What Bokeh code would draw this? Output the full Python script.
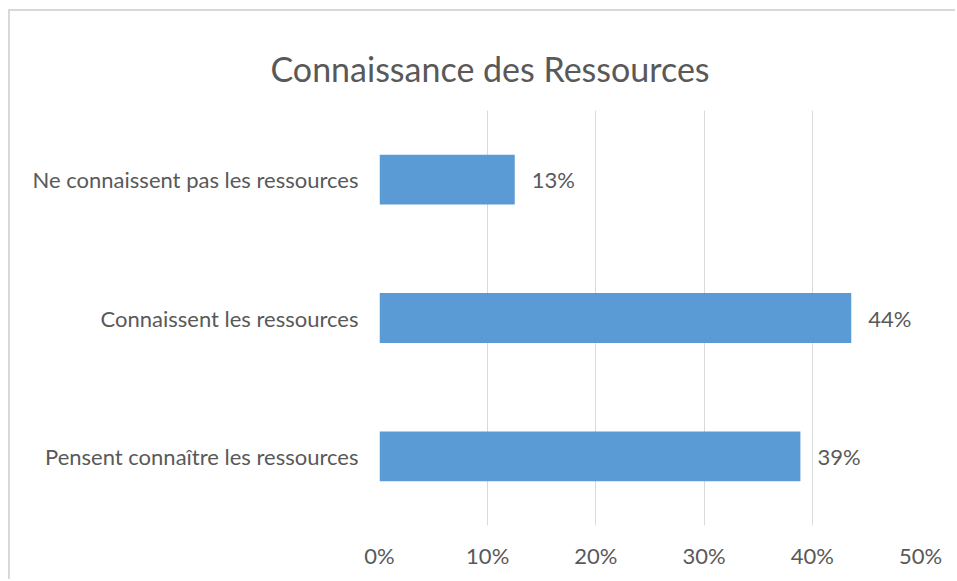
from bokeh.plotting import figure
from bokeh.models import ColumnDataSource, FactorRange, Range1d, NumeralTickFormatter, FixedTicker, LabelSet
from bokeh.core.properties import value
from bokeh.embed import file_html
from bokeh.resources import INLINE

title_text = "Connaissance des Ressources"
categories = ["Pensent connaître les ressources", "Connaissent les ressources", "Ne connaissent pas les ressources"]
values = [0.389, 0.436, 0.125]
value_labels = ["39%", "44%", "13%"]
x_ticks = [0, 0.1, 0.2, 0.3, 0.4, 0.5]

FONT = "Lato"
TXT = "#595959"

src = ColumnDataSource(dict(cat=categories, val=values, lab=value_labels))

p = figure(width=947, height=570, output_backend="svg", toolbar_location=None,
           y_range=FactorRange(*categories), x_range=Range1d(0, 0.5),
           min_border_left=369, min_border_right=37, min_border_top=99, min_border_bottom=56,
           title=title_text,
           styles={"margin-left": "8px", "margin-top": "9px",
                   "border-top": "2px solid #D9D9D9", "border-left": "2px solid #D9D9D9"})
p.title.align = "left"
p.title.offset = -109
p.title.vertical_align = "top"
p.title.text_font = FONT
p.title.text_font_size = "34px"
p.title.text_font_style = "normal"
p.title.text_color = TXT
p.title.standoff = 40

p.hbar(y="cat", right="val", height=0.36, left=0, source=src, color="#5B9BD5", line_color=None)

labels = LabelSet(x="val", y="cat", text="lab", source=src, x_offset=17, text_baseline="middle",
                  text_font=value(FONT), text_font_size=value("22px"), text_color=TXT)
p.add_layout(labels)

p.xaxis.ticker = FixedTicker(ticks=x_ticks)
p.xaxis.formatter = NumeralTickFormatter(format="0%")
p.xaxis.axis_line_color = None
p.xaxis.major_tick_line_color = None
p.xaxis.minor_tick_line_color = None
p.xaxis.major_label_standoff = 10
p.xaxis.major_label_text_font = FONT
p.xaxis.major_label_text_font_size = "22px"
p.xaxis.major_label_text_color = TXT

p.yaxis.axis_line_color = None
p.yaxis.major_tick_line_color = None
p.yaxis.minor_tick_line_color = None
p.yaxis.major_label_standoff = 15
p.yaxis.major_label_text_font = FONT
p.yaxis.major_label_text_font_size = "22px"
p.yaxis.major_label_text_color = TXT

p.xgrid.grid_line_color = "#D9D9D9"
p.ygrid.grid_line_color = None
p.outline_line_color = None

open("out.html", "w").write(file_html(p, INLINE))
